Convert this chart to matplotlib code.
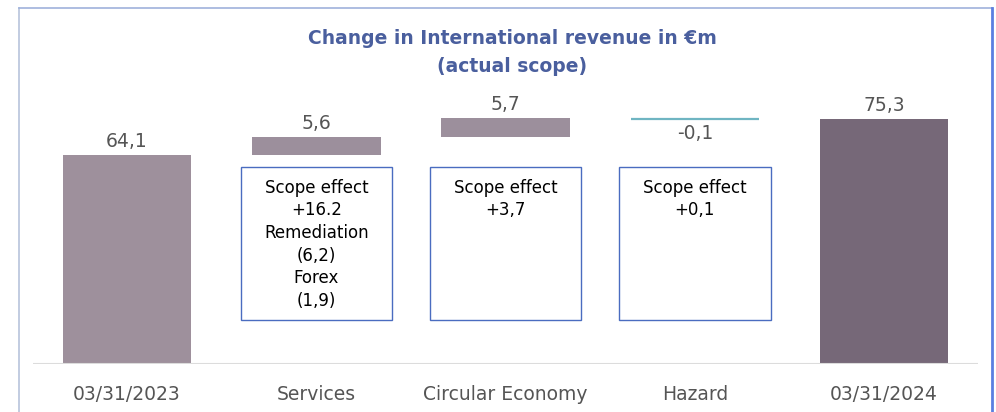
import matplotlib.pyplot as plt
from matplotlib.patches import Rectangle
from matplotlib.lines import Line2D

# data
categories = ["03/31/2023", "Services", "Circular Economy", "Hazard", "03/31/2024"]
start_value = 64.1
changes = [5.6, 5.7, -0.1]
end_value = 75.3
value_labels = ["64,1", "5,6", "5,7", "-0,1", "75,3"]
box_texts = [
    "Scope effect\n+16.2\nRemediation\n(6,2)\nForex\n(1,9)",
    "Scope effect\n+3,7",
    "Scope effect\n+0,1",
]

plt.rcParams["font.family"] = ["DejaVu Sans"]

col_total1 = "#9e909c"
col_step = "#9c8f9c"
col_total2 = "#766878"
col_neg = "#6fb5c2"
col_text = "#555555"
col_title = "#4a5f9e"

fig = plt.figure(figsize=(9.96, 4.12), dpi=100)
ax = fig.add_axes([33 / 996, 48 / 412, (978 - 33) / 996, 344 / 412])
ax.set_xlim(-0.497, 4.496)
ax.set_ylim(0, 344 / 3.26)
ax.axis("off")

w = 0.68
x = list(range(len(categories)))

# totals
ax.bar(x[0], start_value, width=w, color=col_total1)
ax.bar(x[4], end_value, width=w, color=col_total2)
ax.text(x[0], start_value + 1.2, value_labels[0], ha="center", va="bottom",
        fontsize=13.5, color=col_text)
ax.text(x[4], end_value + 1.2, value_labels[4], ha="center", va="bottom",
        fontsize=13.5, color=col_text)

# steps
level = start_value
for i, d in enumerate(changes):
    xi = x[i + 1]
    if d >= 0:
        ax.bar(xi, d, bottom=level, width=w, color=col_step)
        ax.text(xi, level + d + 1.2, value_labels[i + 1], ha="center", va="bottom",
                fontsize=13.5, color=col_text)
    else:
        ax.hlines(level + d, xi - w / 2, xi + w / 2, color=col_neg, lw=1.6)
        ax.text(xi, level + d - 1.8, value_labels[i + 1], ha="center", va="top",
                fontsize=13.5, color=col_text)
    level += d

# annotation boxes
for i, txt in enumerate(box_texts):
    xi = x[i + 1]
    ax.add_patch(Rectangle((xi - 0.40, 13.5), 0.80, 46.9, fill=False,
                           edgecolor="#4a6cc0", lw=1.0))
    ax.text(xi, 56.8, txt, ha="center", va="top", fontsize=12,
            color="black", linespacing=1.33)

# baseline
ax.axhline(0, color="#dcdcdc", lw=1.5)

# category labels
for xi, c in zip(x, categories):
    ax.text(xi, -9.5, c, ha="center", va="center", fontsize=13.5, color=col_text)

# title
fig.text(512 / 996, 1 - 38 / 412, "Change in International revenue in €m",
         ha="center", va="center", fontsize=13.5, fontweight="bold", color=col_title)
fig.text(512 / 996, 1 - 66 / 412, "(actual scope)",
         ha="center", va="center", fontsize=13.5, fontweight="bold", color=col_title)

# frame
fig.add_artist(Line2D([19 / 996, 19 / 996], [0, 1 - 8 / 412], color="#b8c4dc", lw=1.2))
fig.add_artist(Line2D([19 / 996, 992 / 996], [1 - 8 / 412, 1 - 8 / 412], color="#9fb2dc", lw=1.2))
fig.add_artist(Line2D([992 / 996, 992 / 996], [0, 1 - 8 / 412], color="#5b7fe0", lw=2.0))

fig.savefig("out.png", dpi=100)
